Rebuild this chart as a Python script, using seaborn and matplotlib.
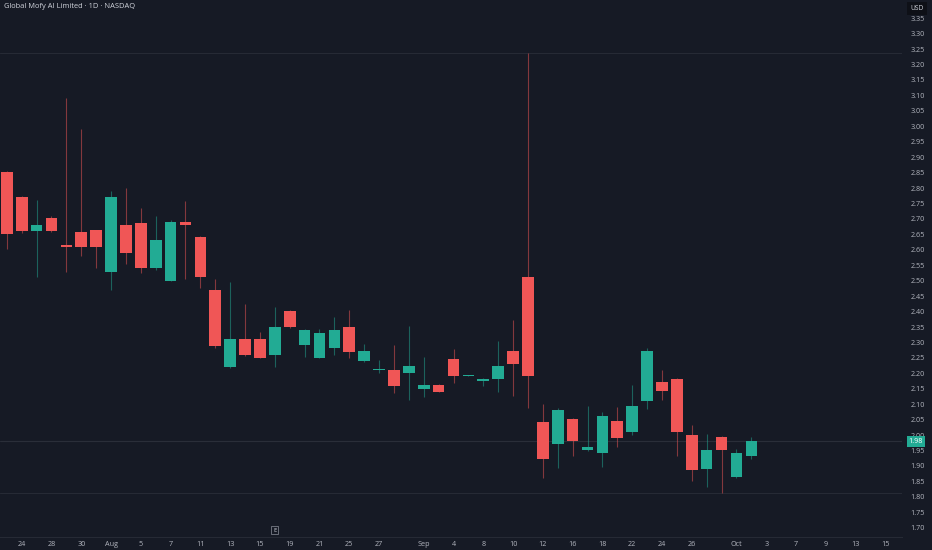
import numpy as np
import pandas as pd
import matplotlib
matplotlib.use("Agg")
import matplotlib.pyplot as plt
import seaborn as sns

# --- data (daily bars 2025) ---
dates = ["2025-07-23", "2025-07-24", "2025-07-25", "2025-07-28", "2025-07-29", "2025-07-30", "2025-07-31",
         "2025-08-01", "2025-08-04", "2025-08-05", "2025-08-06", "2025-08-07", "2025-08-08", "2025-08-11",
         "2025-08-12", "2025-08-13", "2025-08-14", "2025-08-15", "2025-08-18", "2025-08-19", "2025-08-20",
         "2025-08-21", "2025-08-22", "2025-08-25", "2025-08-26", "2025-08-27", "2025-08-28", "2025-08-29",
         "2025-09-02", "2025-09-03", "2025-09-04", "2025-09-05", "2025-09-08", "2025-09-09", "2025-09-10",
         "2025-09-11", "2025-09-12", "2025-09-15", "2025-09-16", "2025-09-17", "2025-09-18", "2025-09-19",
         "2025-09-22", "2025-09-23", "2025-09-24", "2025-09-25", "2025-09-26", "2025-09-29", "2025-09-30",
         "2025-10-01", "2025-10-02"]
opens = [2.853, 2.771, 2.661, 2.702, 2.612, 2.657, 2.663, 2.529, 2.681, 2.686, 2.540, 2.500, 2.691, 2.641,
         2.471, 2.220, 2.312, 2.312, 2.260, 2.402, 2.291, 2.251, 2.283, 2.351, 2.241, 2.210, 2.211, 2.200,
         2.150, 2.162, 2.247, 2.192, 2.175, 2.181, 2.272, 2.512, 2.042, 1.971, 2.052, 1.951, 1.941, 2.046,
         2.011, 2.111, 2.172, 2.181, 2.001, 1.891, 1.993, 1.864, 1.931]
highs = [2.855, 2.775, 2.761, 2.710, 3.091, 2.990, 2.665, 2.791, 2.801, 2.736, 2.710, 2.695, 2.758, 2.645,
         2.505, 2.497, 2.425, 2.334, 2.414, 2.405, 2.345, 2.345, 2.383, 2.405, 2.295, 2.243, 2.292, 2.353,
         2.254, 2.165, 2.278, 2.195, 2.185, 2.304, 2.373, 3.237, 2.101, 2.087, 2.055, 2.094, 2.076, 2.092,
         2.162, 2.282, 2.211, 2.185, 2.033, 2.003, 1.996, 1.956, 1.993]
lows = [2.602, 2.655, 2.513, 2.658, 2.529, 2.581, 2.542, 2.470, 2.555, 2.524, 2.535, 2.498, 2.505, 2.475,
        2.283, 2.218, 2.255, 2.249, 2.219, 2.348, 2.254, 2.249, 2.259, 2.249, 2.238, 2.200, 2.135, 2.114,
        2.124, 2.138, 2.168, 2.190, 2.159, 2.140, 2.127, 2.087, 1.860, 1.894, 1.932, 1.948, 1.898, 1.960,
        2.000, 2.084, 2.114, 1.932, 1.852, 1.831, 1.811, 1.862, 1.922]
closes = [2.650, 2.661, 2.681, 2.661, 2.610, 2.610, 2.610, 2.771, 2.591, 2.540, 2.631, 2.690, 2.680, 2.511,
          2.289, 2.312, 2.260, 2.251, 2.351, 2.351, 2.341, 2.332, 2.341, 2.270, 2.271, 2.212, 2.160, 2.223,
          2.162, 2.140, 2.190, 2.192, 2.183, 2.223, 2.231, 2.191, 1.922, 2.081, 1.981, 1.962, 2.061, 1.991,
          2.094, 2.271, 2.142, 2.011, 1.888, 1.952, 1.951, 1.941, 1.982]

tick_dates = ["2025-07-24", "2025-07-28", "2025-07-30", "2025-08-01", "2025-08-05", "2025-08-07", "2025-08-11",
              "2025-08-13", "2025-08-15", "2025-08-19", "2025-08-21", "2025-08-25", "2025-08-27", "2025-09-02",
              "2025-09-04", "2025-09-08", "2025-09-10", "2025-09-12", "2025-09-16", "2025-09-18", "2025-09-22",
              "2025-09-24", "2025-09-26", "2025-10-01", "2025-10-03", "2025-10-07", "2025-10-09", "2025-10-13",
              "2025-10-15"]
tick_labels = ["24", "28", "30", "Aug", "5", "7", "11", "13", "15", "19", "21", "25", "27", "Sep", "4", "8",
               "10", "12", "16", "18", "22", "24", "26", "Oct", "3", "7", "9", "13", "15"]
price_ticks = [1.70, 1.75, 1.80, 1.85, 1.90, 1.95, 2.00, 2.05, 2.10, 2.15, 2.20, 2.25, 2.30, 2.35, 2.40,
               2.45, 2.50, 2.55, 2.60, 2.65, 2.70, 2.75, 2.80, 2.85, 2.90, 2.95, 3.00, 3.05, 3.10, 3.15,
               3.20, 3.25, 3.30, 3.35]
last_price = 1.98
earnings_date = "2025-08-18"

# --- colours ---
BG = "#161a25"
UP = "#22ab94"
DOWN = "#f05656"
TXT = "#b2b5be"

# trading calendar (Labor Day off)
cal = pd.bdate_range("2025-07-23", "2025-10-15", freq="C", holidays=["2025-09-01"])
pos = {d.strftime("%Y-%m-%d"): i - 1 for i, d in enumerate(cal)}

df = pd.DataFrame({"date": dates, "open": opens, "high": highs, "low": lows, "close": closes})
df["x"] = df["date"].map(pos)
df["up"] = df["close"] >= df["open"]
df["color"] = np.where(df["up"], UP, DOWN)
df["bottom"] = df[["open", "close"]].min(axis=1)
df["height"] = (df["close"] - df["open"]).abs().clip(lower=0.004)

sns.set_theme(style="dark", rc={"axes.facecolor": BG, "figure.facecolor": BG})
plt.rcParams["font.family"] = ["Open Sans", "DejaVu Sans"]

fig = plt.figure(figsize=(9.32, 5.5), dpi=100)
ax = fig.add_axes([0, 13 / 550, 902 / 932, 537 / 550])

# wicks then bodies
ax.vlines(df["x"], df["low"], df["high"], colors=df["color"], linewidth=0.8, alpha=0.5, zorder=2)
ax.bar(df["x"], df["height"], bottom=df["bottom"], width=0.78, color=df["color"], linewidth=0, zorder=3)

# horizontal reference lines (high, last, low)
ax.axhline(max(highs), color="#262a35", linewidth=0.8, zorder=1)
ax.axhline(min(lows), color="#262a35", linewidth=0.8, zorder=1)
ax.axhline(last_price, color="#2a2e39", linewidth=0.8, zorder=1)

ax.set_xlim(-1.457, 59.12)
ax.set_ylim(1.670, 3.409)

ax.set_xticks([pos[d] for d in tick_dates])
ax.set_xticklabels(tick_labels)
ax.yaxis.tick_right()
ax.set_yticks(price_ticks)
ax.set_yticklabels([f"{v:.2f}" for v in price_ticks])
ax.tick_params(axis="x", length=0, pad=3, labelsize=5.2, colors=TXT)
ax.tick_params(axis="y", length=0, pad=6, labelsize=5.2, colors=TXT)
ax.grid(False)
for s in ["top", "left", "right"]:
    ax.spines[s].set_visible(False)
ax.spines["bottom"].set_color("#262a35")
ax.spines["bottom"].set_linewidth(0.8)

# title
ax.text(4 / 902, 1 - 7 / 537, "Global Mofy AI Limited · 1D · NASDAQ", transform=ax.transAxes,
        ha="left", va="center", fontsize=5.4, color="#d1d4dc")

# currency label, last price badge
fig.text(917 / 932, 1 - 8 / 550, "USD", ha="center", va="center", fontsize=4.8, color="#d1d4dc",
         bbox=dict(boxstyle="square,pad=0.45", facecolor="#0e1017", edgecolor="none"))
ax.text(1 + 14 / 902, last_price, f"{last_price:.2f}", transform=ax.get_yaxis_transform(),
        ha="center", va="center", fontsize=5.2, color="white", clip_on=False,
        bbox=dict(boxstyle="square,pad=0.3", facecolor=UP, edgecolor="none"))

# earnings marker
ax.text(pos[earnings_date], 1.692, "E", ha="center", va="center", fontsize=4.2, color="#d1d4dc",
        bbox=dict(boxstyle="square,pad=0.3", facecolor="none", edgecolor="#787b86", linewidth=0.6))

fig.savefig("out.png", dpi=100, facecolor=BG)
